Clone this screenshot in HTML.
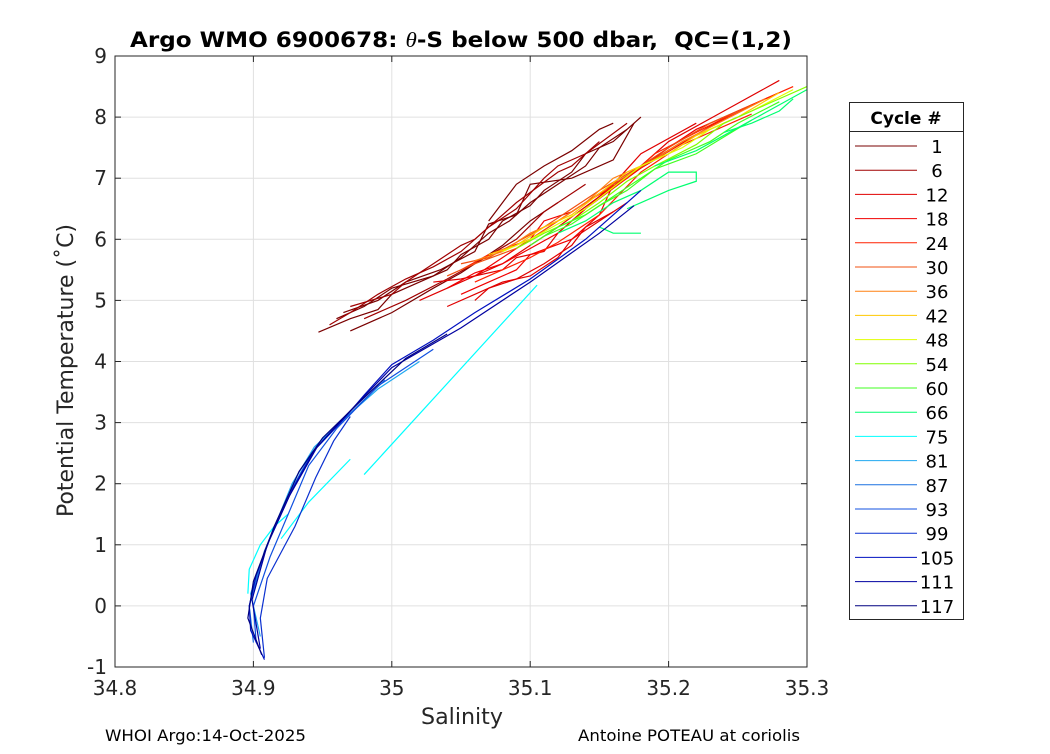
<!DOCTYPE html>
<html><head><meta charset="utf-8"><style>
body{margin:0;background:#fff;width:1050px;height:750px;overflow:hidden;font-family:"DejaVu Sans","Liberation Sans",sans-serif;}
</style></head><body>
<svg id="chart" width="1050" height="750" xmlns="http://www.w3.org/2000/svg" font-family="DejaVu Sans, Liberation Sans, sans-serif">
<rect x="0" y="0" width="1050" height="750" fill="#fff"/>
<g id="grid"></g>
<g id="series"></g>
<rect x="115" y="56" width="692" height="611" fill="none" stroke="#262626" stroke-width="1"/>
<g id="ticks"></g>
<text x="130" y="47" textLength="662" lengthAdjust="spacingAndGlyphs" font-size="21" font-weight="bold" fill="#000" xml:space="preserve">Argo WMO 6900678: <tspan font-family="Liberation Serif, serif" font-style="italic" font-weight="normal">θ</tspan>-S below 500 dbar,  QC=(1,2)</text>
<text x="421" y="724" textLength="82" lengthAdjust="spacingAndGlyphs" font-size="22" fill="#262626">Salinity</text>
<text transform="translate(73,517) rotate(-90)" textLength="293" lengthAdjust="spacingAndGlyphs" font-size="22" fill="#262626">Potential Temperature (˚C)</text>
<text x="105" y="741" textLength="201" lengthAdjust="spacingAndGlyphs" font-size="16" fill="#000">WHOI Argo:14-Oct-2025</text>
<text x="578" y="741" textLength="222" lengthAdjust="spacingAndGlyphs" font-size="16" fill="#000">Antoine POTEAU at coriolis</text>
<g id="legend">
<rect x="849.5" y="102.5" width="114" height="517" fill="#fff" stroke="#262626"/>
<line x1="849.5" y1="131.5" x2="963.5" y2="131.5" stroke="#262626"/>
<text x="906" y="124" text-anchor="middle" font-size="17" font-weight="bold" fill="#000">Cycle #</text>
</g>
</svg>
<script>
const cycles=["1","6","12","18","24","30","36","42","48","54","60","66","75","81","87","93","99","105","111","117"];
const colors=["#7a0000","#a00000","#e00000","#f00000","#ff2000","#f05010","#ff8010","#ffc800","#e0ff00","#80ff00","#40ff20","#00ff70","#00ffff","#20a8f0","#1a70e0","#1050e0","#0a30d0","#0010c0","#0000a0","#000080"];
const seriesData=[
 [[[34.947,4.48],[34.97,4.7],[34.99,4.85],[35.0,5.1],[35.02,5.3],[35.04,5.5],[35.05,5.75],[35.07,6.0],[35.08,6.3],[35.1,6.55],[35.11,6.8],[35.13,7.1],[35.14,7.4],[35.16,7.6],[35.18,8.0]],
  [[34.96,4.7],[34.98,4.9],[35.0,5.2],[35.03,5.4],[35.05,5.7],[35.07,6.1],[35.085,6.3],[35.1,6.6],[35.12,6.9],[35.14,7.2],[35.15,7.5],[35.17,7.8]],
  [[34.965,4.8],[34.99,5.0],[35.01,5.3],[35.035,5.5],[35.06,5.8],[35.07,6.25],[35.09,6.4],[35.1,6.9],[35.13,7.0],[35.16,7.3],[35.175,7.9]],
  [[34.97,4.5],[35.0,4.8],[35.03,5.2],[35.05,5.45],[35.08,5.9],[35.1,6.3],[35.12,6.6]],
  [[35.07,6.3],[35.08,6.6],[35.09,6.9],[35.11,7.2],[35.13,7.45],[35.15,7.8],[35.16,7.9]]],
 [[[34.955,4.6],[34.97,4.8],[34.99,5.1],[35.01,5.35],[35.03,5.55],[35.05,5.8],[35.07,6.2],[35.09,6.5],[35.11,7.0],[35.12,7.2],[35.14,7.4],[35.17,7.9]],
  [[34.97,4.9],[35.0,5.1],[35.01,5.3],[35.05,5.9],[35.06,6.0],[35.09,6.6],[35.12,7.1],[35.13,7.2],[35.15,7.6]],
  [[34.98,4.7],[35.01,5.0],[35.04,5.35],[35.06,5.6],[35.09,6.0],[35.11,6.45],[35.14,6.9]]],
 [[[35.02,5.0],[35.04,5.2],[35.06,5.4],[35.08,5.6],[35.1,5.9],[35.12,6.2],[35.15,6.7],[35.18,7.2],[35.2,7.6],[35.24,8.1],[35.28,8.6]],
  [[35.03,5.3],[35.05,5.35],[35.08,5.5],[35.09,5.7],[35.11,5.8],[35.12,6.1],[35.14,6.5],[35.16,6.9],[35.18,7.4],[35.22,7.9]],
  [[35.04,4.9],[35.06,5.1],[35.08,5.3],[35.1,5.4],[35.12,5.7],[35.13,6.0],[35.15,6.3],[35.17,6.6]],
  [[35.06,5.0],[35.07,5.2],[35.09,5.35],[35.11,5.6],[35.13,5.9],[35.14,6.2],[35.16,6.45]]],
 [[[35.04,5.2],[35.06,5.45],[35.08,5.6],[35.1,5.85],[35.12,6.1],[35.14,6.5],[35.17,7.0],[35.2,7.5],[35.22,7.8],[35.28,8.4]],
  [[35.05,5.1],[35.07,5.3],[35.09,5.5],[35.1,5.75],[35.13,6.0],[35.15,6.4],[35.16,6.9],[35.19,7.3],[35.23,7.85],[35.27,8.3]],
  [[35.06,5.4],[35.08,5.7],[35.1,6.0],[35.11,6.3],[35.13,6.45],[35.15,6.75]]],
 [[[35.05,5.5],[35.07,5.75],[35.1,6.0],[35.12,6.3],[35.14,6.6],[35.17,7.0],[35.19,7.4],[35.22,7.75],[35.25,8.1],[35.29,8.5]],
  [[35.06,5.3],[35.08,5.5],[35.1,5.7],[35.12,5.95],[35.15,6.4],[35.18,7.1],[35.21,7.55],[35.26,8.05]]],
 [[[35.05,5.6],[35.07,5.7],[35.09,5.95],[35.11,6.2],[35.13,6.5],[35.15,6.8],[35.18,7.2],[35.2,7.5],[35.23,7.9],[35.26,8.2]],
  [[35.04,5.4],[35.06,5.6],[35.09,5.85],[35.12,6.3],[35.16,6.9],[35.21,7.6],[35.25,8.0]]],
 [[[35.06,5.65],[35.08,5.8],[35.1,6.1],[35.12,6.3],[35.14,6.6],[35.16,7.0],[35.19,7.3],[35.21,7.6],[35.24,7.95],[35.27,8.3]]],
 [[[35.07,5.75],[35.09,5.9],[35.11,6.2],[35.13,6.4],[35.15,6.75],[35.17,7.1],[35.2,7.4],[35.22,7.7],[35.25,8.0],[35.28,8.4]]],
 [[[35.08,5.8],[35.1,6.0],[35.12,6.25],[35.14,6.5],[35.16,6.85],[35.18,7.2],[35.21,7.5],[35.23,7.8],[35.26,8.1],[35.29,8.45]]],
 [[[35.09,5.85],[35.11,6.1],[35.13,6.3],[35.15,6.6],[35.17,6.95],[35.19,7.2],[35.22,7.55],[35.24,7.9],[35.27,8.2],[35.3,8.5]]],
 [[[35.1,5.9],[35.12,6.2],[35.14,6.4],[35.16,6.7],[35.18,7.0],[35.2,7.3],[35.23,7.6],[35.25,7.9],[35.28,8.25]],
  [[35.11,6.05],[35.13,6.25],[35.15,6.55],[35.17,6.8],[35.19,7.15],[35.22,7.4],[35.26,7.95]]],
 [[[35.12,6.1],[35.14,6.3],[35.16,6.6],[35.18,6.8],[35.2,7.1],[35.22,7.1],[35.22,6.95],[35.2,6.8],[35.18,6.6],[35.17,6.5]],
  [[35.15,6.2],[35.16,6.1],[35.18,6.1]],
  [[35.19,7.2],[35.22,7.45],[35.24,7.7],[35.26,7.95],[35.28,8.2],[35.3,8.45]],
  [[35.24,7.75],[35.26,7.9],[35.28,8.1],[35.29,8.3]]],
 [[[34.98,2.15],[35.105,5.25]],[[34.896,0.2],[34.897,0.6],[34.905,1.0],[34.915,1.3],[34.925,1.5]],[[34.92,1.1],[34.94,1.7],[34.97,2.4]]],
 [[[34.905,-0.5],[34.898,0.2],[34.91,1.0],[34.928,2.0],[34.944,2.6],[34.965,3.05],[34.99,3.55],[35.02,4.0]]],
 [[[34.9,-0.6],[34.897,0],[34.908,0.9],[34.925,1.8],[34.942,2.5],[34.963,3.0],[34.995,3.7]]],
 [[[34.902,-0.6],[34.9,0],[34.912,0.8],[34.927,1.6],[34.94,2.3],[34.96,2.9],[34.99,3.6],[35.03,4.2]]],
 [[[34.908,-0.85],[34.905,-0.2],[34.91,0.45],[34.93,1.3],[34.945,2.1],[34.958,2.7],[34.97,3.1]]],
 [[[34.908,-0.88],[34.898,-0.4],[34.897,0],[34.902,0.5],[34.912,1.1],[34.928,1.9],[34.944,2.55],[34.963,3.0],[34.98,3.45],[35.0,3.95],[35.03,4.35],[35.06,4.8],[35.1,5.35],[35.14,6.0],[35.18,6.8]]],
 [[[34.905,-0.7],[34.899,0.1],[34.91,1.0],[34.926,1.8],[34.946,2.6],[34.966,3.1],[35.0,3.9],[35.05,4.55],[35.1,5.3],[35.15,6.1],[35.175,6.55]]],
 [[[34.906,-0.8],[34.896,-0.2],[34.9,0.4],[34.915,1.3],[34.933,2.2],[34.95,2.75],[34.975,3.3],[35.01,4.05],[35.04,4.45]]]
];
const xTicks=[34.8,34.9,35,35.1,35.2,35.3];
const yTicks=[-1,0,1,2,3,4,5,6,7,8,9];
const X0=115,X1=807,Y0=667,Y1=56;
const sx=v=>X0+(v-34.8)/0.5*(X1-X0);
const sy=v=>Y0-(v+1)/10*(Y0-Y1);
const NS="http://www.w3.org/2000/svg";
function mk(tag,attrs,parent){const e=document.createElementNS(NS,tag);for(const k in attrs)e.setAttribute(k,attrs[k]);parent.appendChild(e);return e;}
const grid=document.getElementById('grid'),ticks=document.getElementById('ticks');
xTicks.forEach(t=>{const x=sx(t);
 const g=mk('line',{x1:x,x2:x,y1:Y1,y2:Y0,stroke:'#e0e0e0'},grid);
 
 
 mk('line',{x1:x,x2:x,y1:Y0,y2:Y0-6,stroke:'#262626'},ticks);
 mk('line',{x1:x,x2:x,y1:Y1,y2:Y1+6,stroke:'#262626'},ticks);
 const tx=mk('text',{x:x,y:Y0+28,'text-anchor':'middle','font-size':20,fill:'#262626'},ticks);
 tx.textContent=String(t);
 
 });
yTicks.forEach(t=>{const y=sy(t);
 const g=mk('line',{x1:X0,x2:X1,y1:y,y2:y,stroke:'#e0e0e0'},grid);
 
 
 mk('line',{x1:X0,x2:X0+6,y1:y,y2:y,stroke:'#262626'},ticks);
 mk('line',{x1:X1,x2:X1-6,y1:y,y2:y,stroke:'#262626'},ticks);
 const tx=mk('text',{x:X0-8,y:y+7,'text-anchor':'end','font-size':20,fill:'#262626'},ticks);
 tx.textContent=String(t);
 
 });
const sg=document.getElementById('series');
seriesData.forEach((segs,i)=>{segs.forEach(seg=>{
 const p=mk('polyline',{points:seg.map(d=>sx(d[0])+','+sy(d[1])).join(' '),fill:'none',stroke:colors[i],'stroke-width':1.2},sg);
 
 });});
const lg=document.getElementById('legend');
cycles.forEach((c,i)=>{const y=146+i*24.2;
 const l=mk('line',{x1:855,x2:917,y1:y,y2:y,stroke:colors[i]},lg);
 
 
 const t=mk('text',{x:937,y:y+7,'text-anchor':'middle','font-size':18,fill:'#000'},lg);
 t.textContent=c;
 
 });
</script>
</body></html>
